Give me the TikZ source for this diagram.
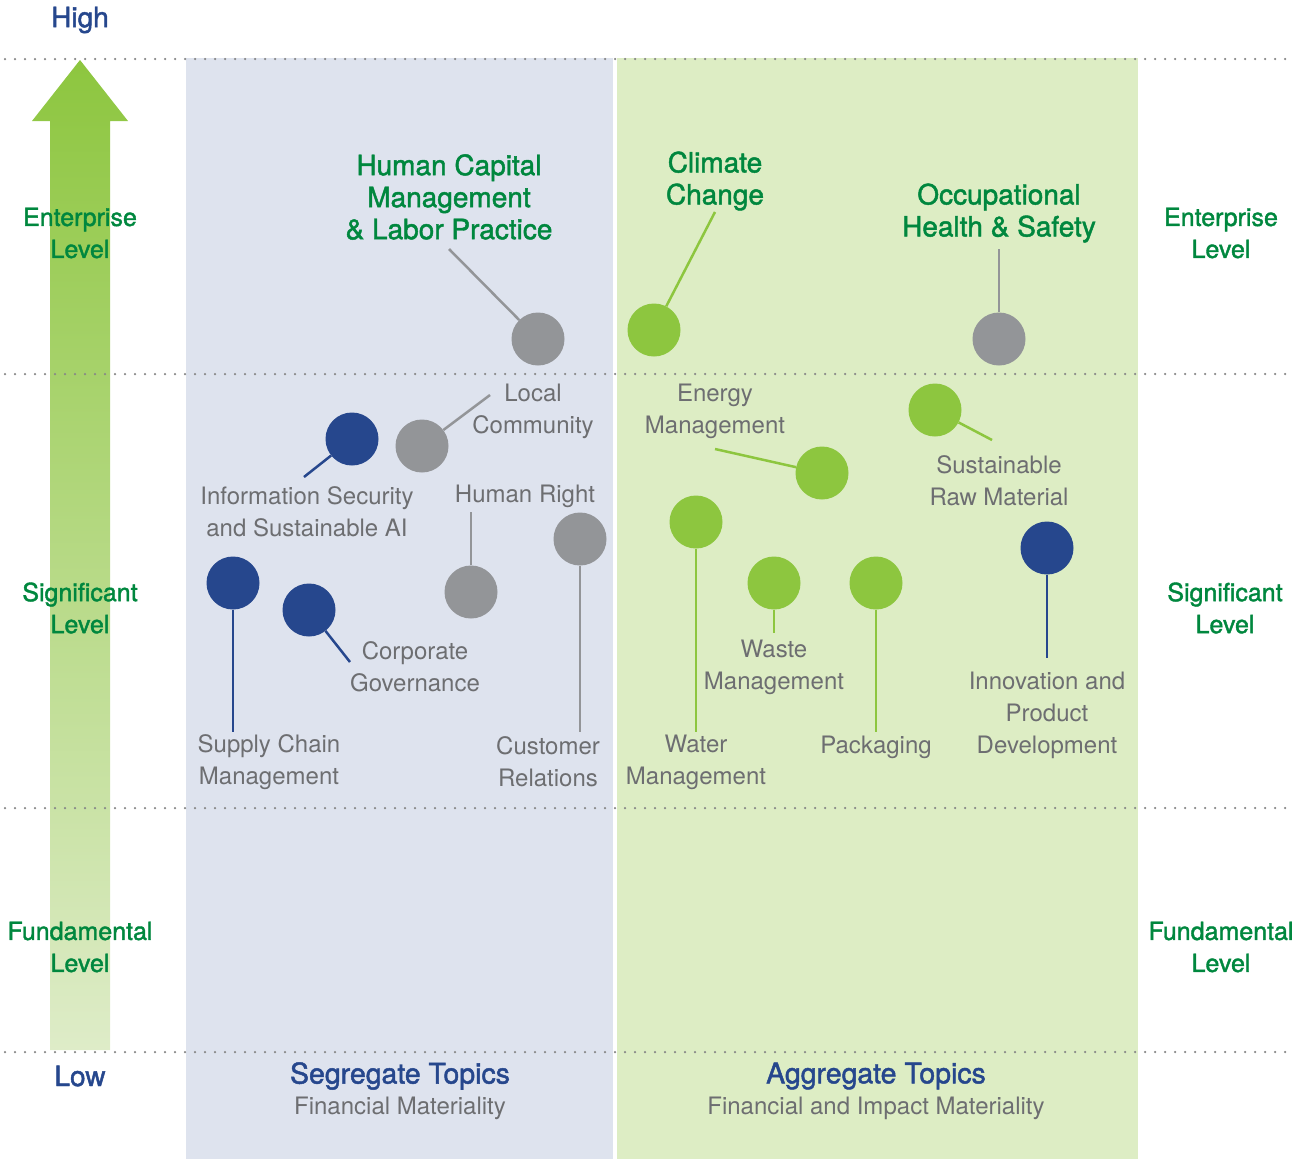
\documentclass[tikz,border=0pt]{standalone}
\usepackage{fontspec}
\setmainfont{TeX Gyre Heros}
\newfontfamily\medfont[FakeBold=1.6]{TeX Gyre Heros}
\usepackage{tikz}
\usetikzlibrary{positioning}

\definecolor{dotgreen}{RGB}{141,198,63}
\definecolor{dotblue}{RGB}{38,71,141}
\definecolor{dotgrey}{RGB}{147,149,152}
\definecolor{txtgrey}{RGB}{109,110,113}
\definecolor{headgreen}{RGB}{0,135,62}
\definecolor{panelblue}{RGB}{222,227,238}
\definecolor{panelgreen}{RGB}{221,237,196}
\definecolor{arrowpale}{RGB}{222,236,200}
\definecolor{gridgrey}{RGB}{135,135,135}

\begin{document}
\begin{tikzpicture}[x=1pt,y=-1pt,
  dot/.style={circle,minimum size=53pt,inner sep=0pt},
  grey dot/.style={dot,fill=dotgrey},
  green dot/.style={dot,fill=dotgreen},
  blue dot/.style={dot,fill=dotblue},
  grey link/.style={draw=dotgrey,line width=2.5pt},
  green link/.style={draw=dotgreen,line width=2.5pt},
  blue link/.style={draw=dotblue,line width=2.5pt},
  topic/.style={align=center,text=txtgrey,inner sep=0pt,font={\fontsize{24}{32}\selectfont}},
  key topic/.style={align=center,text=headgreen,inner sep=0pt,font={\medfont\fontsize{28}{32}\selectfont}},
  level/.style={align=center,text=headgreen,inner sep=0pt,font={\medfont\fontsize{25}{32}\selectfont}},
  axis/.style={text=dotblue,inner sep=0pt,font={\medfont\fontsize{28}{32}\selectfont}},
  group/.style={text=dotblue,inner sep=0pt,font={\medfont\fontsize{28.5}{32}\selectfont}},
  group note/.style={text=txtgrey,inner sep=0pt,font={\fontsize{24}{32}\selectfont}},
  grid line/.style={draw=gridgrey,line width=2.5pt,line cap=round,dash pattern=on 0pt off 10pt}]

  \useasboundingbox (0,0) rectangle (1304,1159);

  % panels and axis arrow
  \fill[panelblue] (186,58) rectangle (613,1159);
  \fill[panelgreen] (617,58) rectangle (1138,1159);
  \shade[top color=dotgreen,bottom color=arrowpale]
    (50,1050) -- (50,121) -- (32,121) -- (80,60) -- (128,121) -- (110,121) -- (110,1050) -- cycle;

  \draw[grid line] (5,59) -- (1290,59);
  \draw[grid line] (5,374) -- (1290,374);
  \draw[grid line] (5,808) -- (1290,808);
  \draw[grid line] (5,1052) -- (1290,1052);

  \node[axis] (high) at (80,20) {High};
  \node[axis] (low) at (80,1076) {Low};

  \node[level] (ent l) at (80,233) {Enterprise\\Level};
  \node[level] (sig l) at (80,608) {Significant\\Level};
  \node[level] (fun l) at (80,947) {Fundamental\\Level};
  \node[level] (ent r) at (1221,233) {Enterprise\\Level};
  \node[level] (sig r) at (1225,608) {Significant\\Level};
  \node[level] (fun r) at (1221,947) {Fundamental\\Level};

  % enterprise level
  \node[grey dot] (hcm) at (538,339) {};
  \node[key topic] (hcm label) at (449,197) {Human Capital\\Management\\\& Labor Practice};
  \coordinate (hcm end) at (449,249);
  \path[grey link] (hcm) -- (hcm end);

  \node[green dot] (cc) at (654,330) {};
  \node[key topic] (cc label) at (715,181) {Climate\\Change};
  \coordinate (cc end) at (715,212);
  \path[green link] (cc) -- (cc end);

  \node[grey dot] (ohs) at (999,339) {};
  \node[key topic] (ohs label) at (999,213) {Occupational\\Health \& Safety};
  \coordinate (ohs end) at (999,249);
  \path[grey link] (ohs) -- (ohs end);

  % significant level, segregate
  \node[grey dot] (lc) at (422,446) {};
  \node[topic] (lc label) at (533,411) {Local\\Community};
  \coordinate (lc end) at (490,395);
  \path[grey link] (lc) -- (lc end);

  \node[blue dot] (is) at (352,439) {};
  \node[topic] (is label) at (307,512) {Information Security\\and Sustainable AI};
  \coordinate (is end) at (304,477);
  \path[blue link] (is) -- (is end);

  \node[grey dot] (hr) at (471,592) {};
  \node[topic] (hr label) at (525,496) {Human Right};
  \coordinate (hr end) at (471,512);
  \path[grey link] (hr) -- (hr end);

  \node[grey dot] (cr) at (580,539) {};
  \node[topic] (cr label) at (548,762) {Customer\\Relations};
  \coordinate (cr end) at (580,732);
  \path[grey link] (cr) -- (cr end);

  \node[blue dot] (sc) at (233,583) {};
  \node[topic] (sc label) at (269,762) {Supply Chain\\Management};
  \coordinate (sc end) at (233,732);
  \path[blue link] (sc) -- (sc end);

  \node[blue dot] (cg) at (309,610) {};
  \node[topic] (cg label) at (415,667) {Corporate\\Governance};
  \coordinate (cg end) at (350,662);
  \path[blue link] (cg) -- (cg end);

  % significant level, aggregate
  \node[green dot] (em) at (822,473) {};
  \node[topic] (em label) at (715,411) {Energy\\Management};
  \coordinate (em end) at (715,449);
  \path[green link] (em) -- (em end);

  \node[green dot] (srm) at (935,410) {};
  \node[topic] (srm label) at (999,481) {Sustainable\\Raw Material};
  \coordinate (srm end) at (992,440);
  \path[green link] (srm) -- (srm end);

  \node[green dot] (wm) at (696,522) {};
  \node[topic] (wm label) at (696,762) {Water\\Management};
  \coordinate (wm end) at (696,732);
  \path[green link] (wm) -- (wm end);

  \node[green dot] (wsm) at (774,583) {};
  \node[topic] (wsm label) at (774,667) {Waste\\Management};
  \coordinate (wsm end) at (774,633);
  \path[green link] (wsm) -- (wsm end);

  \node[green dot] (pk) at (876,583) {};
  \node[topic] (pk label) at (876,747) {Packaging};
  \coordinate (pk end) at (876,732);
  \path[green link] (pk) -- (pk end);

  \node[blue dot] (ipd) at (1047,548) {};
  \node[topic] (ipd label) at (1047,715) {Innovation and\\Product\\Development};
  \coordinate (ipd end) at (1047,658);
  \path[blue link] (ipd) -- (ipd end);

  % bottom captions
  \node[group] (seg) at (400,1076) {Segregate Topics};
  \node[group note] (seg note) at (400,1108) {Financial Materiality};
  \node[group] (agg) at (876,1076) {Aggregate Topics};
  \node[group note] (agg note) at (876,1108) {Financial and Impact Materiality};
\end{tikzpicture}
\end{document}
